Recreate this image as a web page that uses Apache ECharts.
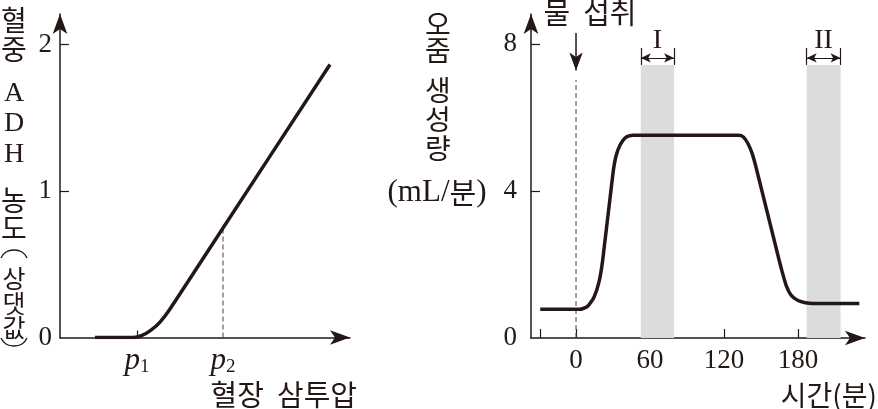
<!DOCTYPE html>
<html><head><meta charset="utf-8">
<script src="https://cdn.jsdelivr.net/npm/echarts@6/dist/echarts.min.js"></script>
<style>html,body{margin:0;padding:0;background:#fff}#c{width:878px;height:409px}</style>
</head><body><div id="c"></div>
<script>
// ---- Left panel: plasma osmolality vs ADH ----
const osmX = [35, 73, 82, 91, 100, 110, 155, 270];
const adhY = [0, 0, 0.014, 0.05, 0.105, 0.195, 0.664, 1.863];
const p1X = 77;
const p2X = 163;
const p2Y = 0.747;
const adhTickVals = [1, 2];
const adhLabelVals = [0, 1, 2];

// ---- Right panel: urine output vs time ----
const timeX = [-29, 0, 3, 9.35, 14.56, 18.6, 21.5, 30, 32.35, 35.8, 40.35, 46, 132, 135.7, 139.25, 142.7, 146, 164, 167, 170.5, 174.5, 180, 186, 192, 229.7];
const urineY = [0.78, 0.78, 0.78, 0.86, 1.11, 1.52, 2.09, 4.49, 4.94, 5.26, 5.46, 5.52, 5.52, 5.47, 5.30, 5.03, 4.64, 2.21, 1.82, 1.42, 1.16, 1.02, 0.96, 0.94, 0.94];
const timeTickVals = [-29, 0, 60, 120, 180];
const timeLabelVals = [0, 60, 120, 180];
const urineTickVals = [4, 8];
const urineLabelVals = [0, 4, 8];
const bandI = [52.5, 79.5];
const bandII = [187, 214.5];
const bandTop = 7.43;
const bracketY = 7.62;
const bracketBarTop = 7.89;
const waterArrowTop = 8.3;
const waterArrowHead = 7.28;
const waterDashTop = 7.02;

const INK = '#231815';
const SERIF = '"Liberation Serif","Times New Roman",serif';
const KR = '"Noto Sans CJK KR","Noto Sans",sans-serif';

const chart = echarts.init(document.getElementById('c'), null, {renderer: 'canvas'});

function zip(a, b) { return a.map((v, i) => [v, b[i]]); }

const axisLineBase = {
  show: true,
  onZero: false,
  symbol: ['none', 'arrow'],
  symbolSize: [11, 20],
  lineStyle: {color: INK, width: 1.5}
};

const leftTitle = [
  ['혈', 20, KR, 28], ['중', 49, KR, 28], ['A', 94, SERIF, 28], ['D', 124, SERIF, 28], ['H', 155, SERIF, 28],
  ['농', 200, KR, 28], ['도', 228, KR, 28], ['상', 278, KR, 25], ['댓', 303, KR, 25], ['값', 327, KR, 25]
];
const rightTitle = [['오', 24], ['줌', 50], ['생', 90], ['성', 119], ['량', 148]];

const graphics = [];
leftTitle.forEach(([ch, y, f, s]) => {
  graphics.push({
    type: 'text', x: 14, y: y,
    style: {text: ch, font: s + 'px ' + f, fill: INK, align: 'center', verticalAlign: 'middle'}
  });
});
// rotated parentheses of the vertical title
graphics.push({type: 'polyline', shape: {points: [[1, 258], [6, 252], [14, 250], [22, 252], [27, 258]], smooth: 0.5}, style: {stroke: INK, lineWidth: 1.4, fill: null}});
graphics.push({type: 'polyline', shape: {points: [[1, 338], [6, 344], [14, 346], [22, 344], [27, 338]], smooth: 0.5}, style: {stroke: INK, lineWidth: 1.4, fill: null}});

rightTitle.forEach(([ch, y]) => {
  graphics.push({type: 'text', x: 438, y: y, style: {text: ch, font: '28px ' + KR, fill: INK, align: 'center', verticalAlign: 'middle'}});
});
graphics.push({
  type: 'text', x: 437, y: 193,
  style: {text: '{a|(mL/}{b|분}{a|)}', align: 'center', verticalAlign: 'middle', fill: INK,
    rich: {a: {fontFamily: SERIF, fontSize: 31, color: INK}, b: {fontFamily: KR, fontSize: 29, color: INK}}}
});
graphics.push({type: 'text', x: 357, y: 395, style: {text: '혈장  삼투압', font: '29px ' + KR, fill: INK, align: 'right', verticalAlign: 'middle'}});
graphics.push({type: 'text', x: 877, y: 395, style: {text: '시간(분)', font: '28px ' + KR, fill: INK, align: 'right', verticalAlign: 'middle'}});
graphics.push({type: 'text', x: 590, y: 13, style: {text: '물  섭취', font: '29px ' + KR, fill: INK, align: 'center', verticalAlign: 'middle'}});

const bracketLabel = (t) => ({show: true, formatter: t, position: 'insideMiddleTop', distance: 3, fontFamily: SERIF, fontSize: 28, color: INK});

const option = {
  animation: false,
  backgroundColor: '#fff',
  grid: [
    {left: 60, top: 14, width: 290, height: 323.5, containLabel: false},
    {left: 531, top: 14, width: 334, height: 324, containLabel: false}
  ],
  xAxis: [
    {
      gridIndex: 0, type: 'value', min: 0, max: 290,
      axisLine: axisLineBase,
      axisTick: {show: true, inside: true, length: 7, customValues: [p1X], lineStyle: {color: INK, width: 1.2}},
      axisLabel: {
        show: true, customValues: [p1X, p2X], margin: 8,
        formatter: v => v === p1X ? '{p|p}{s|1}' : '{p|p}{s|2}',
        rich: {
          p: {fontFamily: SERIF, fontStyle: 'italic', fontSize: 31, color: INK},
          s: {fontFamily: SERIF, fontSize: 19, color: INK, padding: [12, 0, 0, 0]}
        }
      },
      splitLine: {show: false}
    },
    {
      gridIndex: 1, type: 'value', min: -36.5, max: 234.3,
      axisLine: axisLineBase,
      axisTick: {show: true, inside: true, length: 9, customValues: timeTickVals, lineStyle: {color: INK, width: 1.2}},
      axisLabel: {show: true, customValues: timeLabelVals, margin: 9, fontFamily: SERIF, fontSize: 27, color: INK},
      splitLine: {show: false}
    }
  ],
  yAxis: [
    {
      gridIndex: 0, type: 'value', min: 0, max: 2.208,
      axisLine: axisLineBase,
      axisTick: {show: true, inside: true, length: 9, customValues: adhTickVals, lineStyle: {color: INK, width: 1.2}},
      axisLabel: {show: true, customValues: adhLabelVals, margin: 8, fontFamily: SERIF, fontSize: 27, color: INK},
      splitLine: {show: false}
    },
    {
      gridIndex: 1, type: 'value', min: 0, max: 8.816,
      axisLine: axisLineBase,
      axisTick: {show: true, inside: true, length: 9, customValues: urineTickVals, lineStyle: {color: INK, width: 1.2}},
      axisLabel: {show: true, customValues: urineLabelVals, margin: 14, fontFamily: SERIF, fontSize: 27, color: INK},
      splitLine: {show: false}
    }
  ],
  series: [
    {
      type: 'line', xAxisIndex: 0, yAxisIndex: 0, data: [[p2X, 0], [p2X, p2Y]],
      showSymbol: false, lineStyle: {color: '#444', width: 1, type: [5, 3]}, z: 1
    },
    {
      type: 'line', xAxisIndex: 0, yAxisIndex: 0, data: zip(osmX, adhY),
      showSymbol: false, smooth: 0.25, lineStyle: {color: INK, width: 3.5}, z: 3
    },
    {
      type: 'line', xAxisIndex: 1, yAxisIndex: 1, data: [[0, 0], [0, waterDashTop]],
      showSymbol: false, lineStyle: {color: '#444', width: 1, type: [5, 3]}, z: 1,
      markArea: {
        silent: true, itemStyle: {color: '#dcdcdc'},
        data: [
          [{coord: [bandI[0], 0]}, {coord: [bandI[1], bandTop]}],
          [{coord: [bandII[0], 0]}, {coord: [bandII[1], bandTop]}]
        ]
      }
    },
    {
      // water intake arrow: shaft + head
      type: 'line', xAxisIndex: 1, yAxisIndex: 1, data: [[0, waterArrowTop], [0, waterArrowHead]],
      showSymbol: false, lineStyle: {color: INK, width: 1.5}, z: 4,
      markPoint: {
        silent: true, symbol: 'arrow', symbolRotate: 180, symbolSize: [10, 18],
        itemStyle: {color: INK}, label: {show: false},
        data: [{coord: [0, waterArrowHead]}]
      }
    },
    {
      type: 'line', xAxisIndex: 1, yAxisIndex: 1, data: [],
      markLine: {
        silent: true, animation: false, symbol: ['arrow', 'arrow'], symbolSize: [7, 10],
        lineStyle: {color: INK, width: 1.2, type: 'solid'},
        data: [
          [{coord: [bandI[0], bracketY], label: bracketLabel('I')}, {coord: [bandI[1], bracketY]}],
          [{coord: [bandII[0], bracketY], label: bracketLabel('II')}, {coord: [bandII[1], bracketY]}]
        ]
      }
    },
    {
      type: 'line', xAxisIndex: 1, yAxisIndex: 1, data: [],
      markLine: {
        silent: true, animation: false, symbol: ['none', 'none'],
        lineStyle: {color: INK, width: 1.2, type: 'solid'},
        label: {show: false},
        data: [bandI[0], bandI[1], bandII[0], bandII[1]].map(x => [{coord: [x, bandTop]}, {coord: [x, bracketBarTop]}])
      }
    },
    {
      type: 'line', xAxisIndex: 1, yAxisIndex: 1, data: zip(timeX, urineY),
      showSymbol: false, smooth: 0.2, lineStyle: {color: INK, width: 3.5}, z: 3
    }
  ],
  graphic: graphics
};
chart.setOption(option);
</script>
</body></html>
